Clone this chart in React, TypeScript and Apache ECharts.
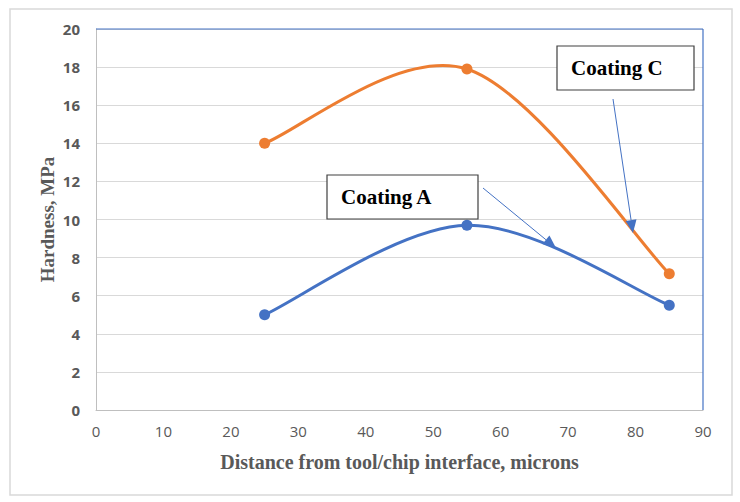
import React, { useEffect, useRef } from "react";
import * as echarts from "echarts";

const xTicks = [0, 10, 20, 30, 40, 50, 60, 70, 80, 90];
const distances = [25, 55, 85];
const coatingA = [5, 9.7, 5.5];
const coatingC = [14, 17.9, 7.15];

function arrow(x1: number, y1: number, x2: number, y2: number, color: string) {
  const dx = x2 - x1, dy = y2 - y1;
  const len = Math.sqrt(dx * dx + dy * dy);
  const ux = dx / len, uy = dy / len;
  const px = -uy, py = ux;
  const hl = 13, hw = 5.5;
  const bx = x2 - ux * hl, by = y2 - uy * hl;
  return [
    { type: "line", shape: { x1, y1, x2: bx, y2: by }, style: { stroke: color, lineWidth: 1 }, z: 100 },
    {
      type: "polygon",
      shape: { points: [[x2, y2], [bx + px * hw, by + py * hw], [bx - px * hw, by - py * hw]] },
      style: { fill: color },
      z: 100,
    },
  ];
}

function callout(x: number, y: number, w: number, h: number, label: string) {
  return [
    { type: "rect", shape: { x, y, width: w, height: h }, style: { fill: "#ffffff", stroke: "#404040", lineWidth: 1.2 }, z: 100 },
    {
      type: "text",
      x: x + 14,
      y: y + h / 2,
      style: { text: label, font: "bold 21px 'Liberation Serif'", fill: "#000000", verticalAlign: "middle" },
      z: 101,
    },
  ];
}

// Excel-style smoothed line (Catmull-Rom tension 1/6) through the data, via the axis scales
function smoothSeries(name: string, values: number[], color: string) {
  return {
    name,
    type: "custom",
    coordinateSystem: "cartesian2d",
    data: distances.map((d, i) => [d, values[i]]),
    encode: { x: 0, y: 1 },
    z: 3,
    renderItem: (params: any, api: any) => {
      const i = params.dataIndex;
      const n = distances.length;
      if (i >= n - 1) return { type: "group", children: [] };
      const p = (j: number) => {
        const k = Math.max(0, Math.min(n - 1, j));
        return api.coord([distances[k], values[k]]);
      };
      const p0 = p(i - 1), p1 = p(i), p2 = p(i + 1), p3 = p(i + 2);
      return {
        type: "bezierCurve",
        shape: {
          x1: p1[0],
          y1: p1[1],
          cpx1: p1[0] + (p2[0] - p0[0]) / 6,
          cpy1: p1[1] + (p2[1] - p0[1]) / 6,
          cpx2: p2[0] - (p3[0] - p1[0]) / 6,
          cpy2: p2[1] - (p3[1] - p1[1]) / 6,
          x2: p2[0],
          y2: p2[1],
        },
        style: { stroke: color, lineWidth: 3, fill: null },
      };
    },
  };
}

export default function App() {
  const ref = useRef<HTMLDivElement>(null);
  useEffect(() => {
    const chart = echarts.init(ref.current!, null, { renderer: "svg" });
    const tickFont = "'Open Sans', 'Liberation Sans', sans-serif";
    chart.setOption({
      animation: false,
      backgroundColor: "#ffffff",
      grid: { left: 96, top: 29, right: 37, bottom: 92, show: false },
      xAxis: {
        type: "value",
        min: 0,
        max: 90,
        interval: 10,
        name: "Distance from tool/chip interface, microns",
        nameLocation: "middle",
        nameGap: 42,
        nameMoveOverlap: false,
        nameTextStyle: { fontFamily: "'Liberation Serif', serif", fontWeight: "bold", fontSize: 20, color: "#595959" },
        axisLine: { show: true, lineStyle: { color: "#bfbfbf", width: 1 } },
        axisTick: { show: false },
        splitLine: { show: false },
        axisLabel: { color: "#595959", fontSize: 15, fontFamily: tickFont, margin: 13, formatter: (v: number) => (xTicks.includes(v) ? String(v) : "") },
      },
      yAxis: {
        type: "value",
        min: 0,
        max: 20,
        interval: 2,
        name: "Hardness, MPa",
        nameLocation: "middle",
        nameGap: 39,
        nameMoveOverlap: false,
        nameTextStyle: { fontFamily: "'Liberation Serif', serif", fontWeight: "bold", fontSize: 19, color: "#595959" },
        axisLine: { show: true, lineStyle: { color: "#bfbfbf", width: 1 } },
        axisTick: { show: false },
        splitLine: { show: true, lineStyle: { color: "#d9d9d9", width: 1 } },
        axisLabel: { color: "#595959", fontSize: 15, fontWeight: "bold", fontFamily: tickFont, margin: 16 },
      },
      series: [
        smoothSeries("Coating A", coatingA, "#4472C4"),
        smoothSeries("Coating C", coatingC, "#ED7D31"),
        {
          name: "Coating A points",
          type: "scatter",
          data: distances.map((d, i) => [d, coatingA[i]]),
          symbol: "circle",
          symbolSize: 11,
          itemStyle: { color: "#4472C4", opacity: 1 },
          z: 4,
        },
        {
          name: "Coating C points",
          type: "scatter",
          data: distances.map((d, i) => [d, coatingC[i]]),
          symbol: "circle",
          symbolSize: 11,
          itemStyle: { color: "#ED7D31", opacity: 1 },
          z: 4,
        },
      ],
      graphic: [
        { type: "rect", shape: { x: 10, y: 9, width: 722, height: 486 }, style: { fill: "none", stroke: "#d9d9d9", lineWidth: 1.5 }, z: -1 },
        { type: "line", shape: { x1: 96, y1: 29, x2: 703, y2: 29 }, style: { stroke: "#4472C4", lineWidth: 1.2 }, z: 50 },
        { type: "line", shape: { x1: 703, y1: 29, x2: 703, y2: 410 }, style: { stroke: "#4472C4", lineWidth: 1.2 }, z: 50 },
        ...callout(327, 175, 151, 44, "Coating A"),
        ...callout(557, 46, 137, 44, "Coating C"),
        ...arrow(483, 188, 556, 248, "#4472C4"),
        ...arrow(613, 99, 633, 233, "#4472C4"),
      ],
    });
    return () => chart.dispose();
  }, []);
  return <div ref={ref} style={{ position: "absolute", left: 0, top: 0, width: 740, height: 502 }} />;
}
